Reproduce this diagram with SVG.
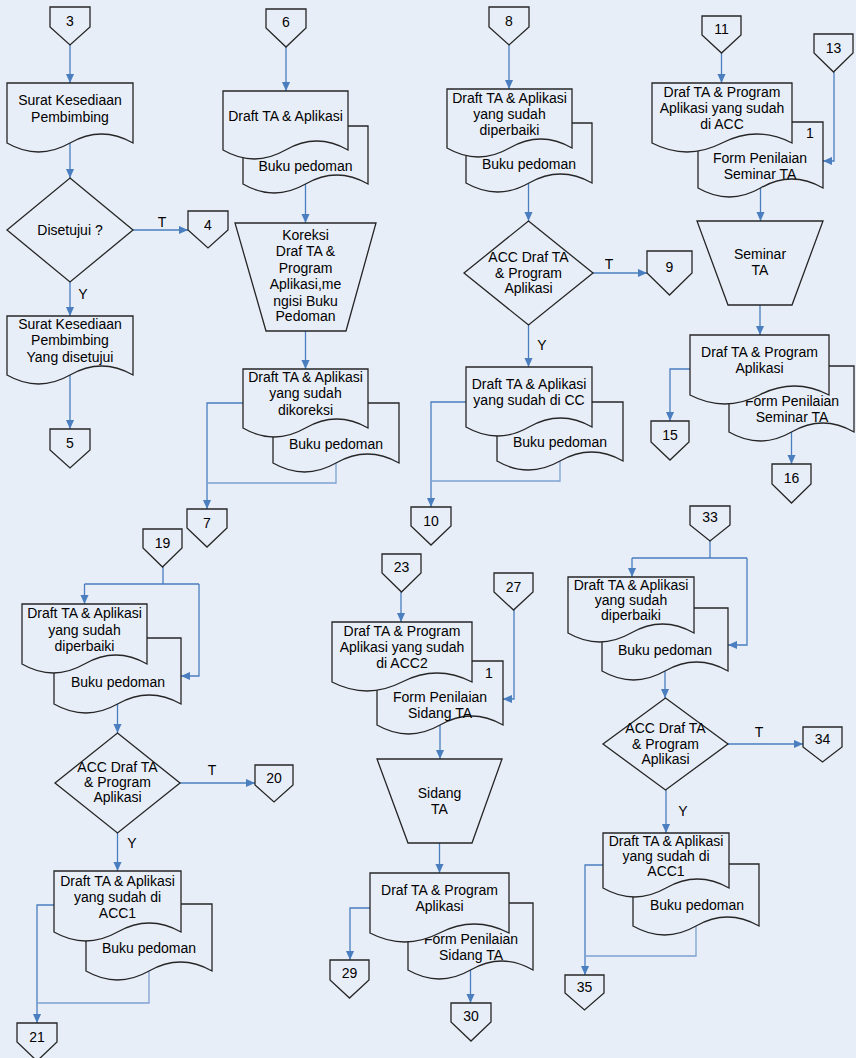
<svg xmlns="http://www.w3.org/2000/svg" width="856" height="1058" viewBox="0 0 856 1058">
<defs>
<style>
.s{fill:#E8EEF8;stroke:#262626;stroke-width:1.3}
.t{font-family:"Liberation Sans",Arial,sans-serif;font-size:14px;text-anchor:middle;dominant-baseline:central;fill:#000}
.c{fill:none;stroke:#4A7EBF;stroke-width:1.3}
.a{marker-end:url(#ah)}
.l{stroke:#7EA0D2}
</style>
<marker id="ah" viewBox="0 0 10 10" refX="10" refY="5" markerWidth="9" markerHeight="9" markerUnits="userSpaceOnUse" orient="auto"><path d="M0,0.5 L10,5 L0,9.5 Z" fill="#4A7EBF"/></marker>
</defs>
<rect width="856" height="1058" fill="#E8EEF8"/>
<g id="connectors">
<path class="c a" d="M70,45 V83"/>
<path class="c a" d="M70,143 V178"/>
<path class="c a" d="M133,230 H188"/>
<path class="c a" d="M70,282 V316"/>
<path class="c a" d="M70,375 V429"/>
<path class="c a" d="M286,47 V91"/>
<path class="c a" d="M305.5,184 V223"/>
<path class="c a" d="M305.5,331 V369"/>
<path class="c a" d="M243,403 H207 V509"/>
<path class="c l" d="M336,463 V483 H207"/>
<path class="c a" d="M509,45 V89"/>
<path class="c a" d="M528.5,183 V221"/>
<path class="c a" d="M593,273 H647"/>
<path class="c a" d="M528.5,325 V367"/>
<path class="c a" d="M466,402 H431 V507"/>
<path class="c l" d="M560,461 V481 H431"/>
<path class="c a" d="M721.5,53 V83"/>
<path class="c a" d="M834,72 V161 H823"/>
<path class="c a" d="M760.5,188 V221"/>
<path class="c a" d="M760,305 V335"/>
<path class="c a" d="M690,369 H670 V421"/>
<path class="c a" d="M791.5,432 V464"/>
<path class="c" d="M163,567 V584 M84.5,584 H199"/>
<path class="c a" d="M84.5,584 V604"/>
<path class="c a" d="M199,584 V676 H181"/>
<path class="c a" d="M117.5,704 V733"/>
<path class="c a" d="M180,783 H255"/>
<path class="c a" d="M117.5,833 V871"/>
<path class="c a" d="M54,905 H37 V1023"/>
<path class="c l" d="M149,971 V1003 H37"/>
<path class="c a" d="M401,592 V622"/>
<path class="c a" d="M514,610 V699 H503"/>
<path class="c a" d="M440,725 V759"/>
<path class="c a" d="M439.5,843 V873"/>
<path class="c a" d="M370,908 H350 V960"/>
<path class="c a" d="M470.5,970 V1003"/>
<path class="c" d="M710,541 V558 M632,558 H747"/>
<path class="c a" d="M632,558 V577"/>
<path class="c a" d="M747,558 V645 H728"/>
<path class="c a" d="M665,671 V698"/>
<path class="c a" d="M728,744 H803"/>
<path class="c a" d="M666,790 V833"/>
<path class="c a" d="M603,865 H585 V975"/>
<path class="c l" d="M696,926 V956 H585"/>
<text class="t" x="162" y="222">T</text>
<text class="t" x="83" y="294">Y</text>
<text class="t" x="609" y="264">T</text>
<text class="t" x="542" y="345">Y</text>
<text class="t" x="212" y="770">T</text>
<text class="t" x="132" y="843">Y</text>
<text class="t" x="759" y="732">T</text>
<text class="t" x="683" y="811">Y</text>
</g>
<g id="p3"><path class="s" d="M50,7 H90 V27 L70,45 L50,27 Z"/><text class="t" x="70" y="21">3</text></g>
<g id="p4"><path class="s" d="M188,211 H228 V230 L208,248 L188,230 Z"/><text class="t" x="208" y="225">4</text></g>
<g id="p5"><path class="s" d="M50,429 H90 V450 L70,468 L50,450 Z"/><text class="t" x="70" y="443">5</text></g>
<g id="p6"><path class="s" d="M266,9 H306 V28 L286,47 L266,28 Z"/><text class="t" x="286" y="22">6</text></g>
<g id="p7"><path class="s" d="M187,509 H227 V528 L207,547 L187,528 Z"/><text class="t" x="207" y="523">7</text></g>
<g id="p8"><path class="s" d="M489,7 H529 V27 L509,45 L489,27 Z"/><text class="t" x="509" y="21">8</text></g>
<g id="p9"><path class="s" d="M647,251 H692 V273 L669.5,295 L647,273 Z"/><text class="t" x="669.5" y="267">9</text></g>
<g id="p10"><path class="s" d="M411,507 H451 V526 L431,545 L411,526 Z"/><text class="t" x="431" y="521">10</text></g>
<g id="p11"><path class="s" d="M702,16 H741 V35 L721.5,53 L702,35 Z"/><text class="t" x="721.5" y="29">11</text></g>
<g id="p13"><path class="s" d="M814,34 H853 V53 L833.5,72 L814,53 Z"/><text class="t" x="833.5" y="48">13</text></g>
<g id="p15"><path class="s" d="M651,421 H689 V442 L670,460 L651,442 Z"/><text class="t" x="670" y="435">15</text></g>
<g id="p16"><path class="s" d="M772,464 H811 V484 L791.5,503 L772,484 Z"/><text class="t" x="791.5" y="478">16</text></g>
<g id="p19"><path class="s" d="M143,529 H182 V548 L162.5,567 L143,548 Z"/><text class="t" x="162.5" y="543">19</text></g>
<g id="p20"><path class="s" d="M255,765 H293 V785 L274,802 L255,785 Z"/><text class="t" x="274" y="778">20</text></g>
<g id="p21"><path class="s" d="M17,1023 H57 V1042 L37,1061 L17,1042 Z"/><text class="t" x="37" y="1037">21</text></g>
<g id="p23"><path class="s" d="M382,554 H421 V573 L401.5,592 L382,573 Z"/><text class="t" x="401.5" y="567">23</text></g>
<g id="p27"><path class="s" d="M494,573 H533 V592 L513.5,610 L494,592 Z"/><text class="t" x="513.5" y="587">27</text></g>
<g id="p29"><path class="s" d="M330,960 H369 V980 L349.5,998 L330,980 Z"/><text class="t" x="349.5" y="973">29</text></g>
<g id="p30"><path class="s" d="M451,1003 H491 V1022 L471,1041 L451,1022 Z"/><text class="t" x="471" y="1016">30</text></g>
<g id="p33"><path class="s" d="M690,506 H730 V525 L710,541 L690,525 Z"/><text class="t" x="710" y="517">33</text></g>
<g id="p34"><path class="s" d="M803,727 H842 V747 L822.5,762 L803,747 Z"/><text class="t" x="822.5" y="739">34</text></g>
<g id="p35"><path class="s" d="M565,975 H604 V993 L584.5,1010 L565,993 Z"/><text class="t" x="584.5" y="987">35</text></g>
<g id="d1"><path class="s" d="M7,83 H133 V143 Q101.5,125 70,143 T7,143 Z"/><text class="t" x="70" y="100">Surat Kesediaan</text><text class="t" x="70" y="117">Pembimbing</text></g>
<g id="q1"><path class="s" d="M70,178 L133,230 L70,282 L7,230 Z"/><text class="t" x="70" y="230">Disetujui ?</text></g>
<g id="d2"><path class="s" d="M7,316 H133 V375 Q101.5,357 70,375 T7,375 Z"/><text class="t" x="70" y="324">Surat Kesediaan</text><text class="t" x="70" y="340">Pembimbing</text><text class="t" x="70" y="357">Yang disetujui</text></g>
<g id="d3b"><path class="s" d="M243,126 H368 V184 Q336.75,166 305.5,184 T243,184 Z"/><text class="t" x="305.5" y="166">Buku pedoman</text></g>
<g id="d3f"><path class="s" d="M223,91 H348 V150 Q316.75,132 285.5,150 T223,150 Z"/><text class="t" x="285.5" y="116">Draft TA &amp; Aplikasi</text></g>
<g id="m1"><path class="s" d="M235,223 H376 L346,331 H266 Z"/><text class="t" x="305.5" y="235">Koreksi</text><text class="t" x="305.5" y="251">Draf TA &amp;</text><text class="t" x="305.5" y="268">Program</text><text class="t" x="305.5" y="284">Aplikasi,me</text><text class="t" x="305.5" y="301">ngisi Buku</text><text class="t" x="305.5" y="316">Pedoman</text></g>
<g id="d4b"><path class="s" d="M273,403 H399 V463 Q367.5,445 336,463 T273,463 Z"/><text class="t" x="336" y="444">Buku pedoman</text></g>
<g id="d4f"><path class="s" d="M243,369 H368 V428 Q336.75,410 305.5,428 T243,428 Z"/><text class="t" x="305.5" y="377">Draft TA &amp; Aplikasi</text><text class="t" x="305.5" y="393">yang sudah</text><text class="t" x="305.5" y="410">dikoreksi</text></g>
<g id="d5b"><path class="s" d="M466,123 H592 V183 Q560.5,165 529,183 T466,183 Z"/><text class="t" x="529" y="164">Buku pedoman</text></g>
<g id="d5f"><path class="s" d="M447,89 H572 V148 Q540.75,130 509.5,148 T447,148 Z"/><text class="t" x="509.5" y="98">Draft TA &amp; Aplikasi</text><text class="t" x="509.5" y="114">yang sudah</text><text class="t" x="509.5" y="130">diperbaiki</text></g>
<g id="q2"><path class="s" d="M528.5,221 L593,273 L528.5,325 L464,273 Z"/><text class="t" x="528.5" y="257">ACC Draf TA</text><text class="t" x="528.5" y="273">&amp; Program</text><text class="t" x="528.5" y="288">Aplikasi</text></g>
<g id="d6b"><path class="s" d="M497,402 H623 V461 Q591.5,443 560,461 T497,461 Z"/><text class="t" x="560" y="442">Buku pedoman</text></g>
<g id="d6f"><path class="s" d="M466,367 H592 V427 Q560.5,409 529,427 T466,427 Z"/><text class="t" x="529" y="384">Draft TA &amp; Aplikasi</text><text class="t" x="529" y="400">yang sudah di CC</text></g>
<g id="d7b"><path class="s" d="M698,122 H823 V188 Q791.75,170 760.5,188 T698,188 Z"/><text class="t" x="810" y="133">1</text><text class="t" x="760" y="158">Form Penilaian</text><text class="t" x="760" y="174">Seminar TA</text></g>
<g id="d7f"><path class="s" d="M652,83 H792 V143 Q757,125 722,143 T652,143 Z"/><text class="t" x="722" y="92">Draf TA &amp; Program</text><text class="t" x="722" y="108">Aplikasi yang sudah</text><text class="t" x="722" y="124">di ACC</text></g>
<g id="m2"><path class="s" d="M697,221 H823 L792,305 H728 Z"/><text class="t" x="760" y="254">Seminar</text><text class="t" x="760" y="270">TA</text></g>
<g id="d8b"><path class="s" d="M729,366 H854 V432 Q822.75,414 791.5,432 T729,432 Z"/><text class="t" x="792" y="401">Form Penilaian</text><text class="t" x="792" y="417">Seminar TA</text></g>
<g id="d8f"><path class="s" d="M690,335 H829 V395 Q794.25,377 759.5,395 T690,395 Z"/><text class="t" x="759.5" y="352">Draf TA &amp; Program</text><text class="t" x="759.5" y="368">Aplikasi</text></g>
<g id="d9b"><path class="s" d="M54,638 H181 V704 Q149.25,686 117.5,704 T54,704 Z"/><text class="t" x="118" y="682">Buku pedoman</text></g>
<g id="d9f"><path class="s" d="M22,604 H147 V664 Q115.75,646 84.5,664 T22,664 Z"/><text class="t" x="84.5" y="613">Draft TA &amp; Aplikasi</text><text class="t" x="84.5" y="630">yang sudah</text><text class="t" x="84.5" y="646">diperbaiki</text></g>
<g id="q3"><path class="s" d="M117.5,733 L180,783 L117.5,833 L55,783 Z"/><text class="t" x="117.5" y="767">ACC Draf TA</text><text class="t" x="117.5" y="782">&amp; Program</text><text class="t" x="117.5" y="797">Aplikasi</text></g>
<g id="d10b"><path class="s" d="M86,904 H212 V971 Q180.5,953 149,971 T86,971 Z"/><text class="t" x="149" y="948">Buku pedoman</text></g>
<g id="d10f"><path class="s" d="M54,871 H181 V932 Q149.25,914 117.5,932 T54,932 Z"/><text class="t" x="117.5" y="881">Draft TA &amp; Aplikasi</text><text class="t" x="117.5" y="897">yang sudah di</text><text class="t" x="117.5" y="913">ACC1</text></g>
<g id="d11b"><path class="s" d="M377,661 H503 V725 Q471.5,707 440,725 T377,725 Z"/><text class="t" x="489" y="673">1</text><text class="t" x="440" y="697">Form Penilaian</text><text class="t" x="440" y="713">Sidang TA</text></g>
<g id="d11f"><path class="s" d="M332,622 H472 V682 Q437,664 402,682 T332,682 Z"/><text class="t" x="402" y="631">Draf TA &amp; Program</text><text class="t" x="402" y="647">Aplikasi yang sudah</text><text class="t" x="402" y="663">di ACC2</text></g>
<g id="m3"><path class="s" d="M377,759 H502 L472,843 H408 Z"/><text class="t" x="439.5" y="793">Sidang</text><text class="t" x="439.5" y="809">TA</text></g>
<g id="d12b"><path class="s" d="M408,903 H533 V970 Q501.75,952 470.5,970 T408,970 Z"/><text class="t" x="471" y="939">Form Penilaian</text><text class="t" x="471" y="955">Sidang TA</text></g>
<g id="d12f"><path class="s" d="M370,873 H509 V933 Q474.25,915 439.5,933 T370,933 Z"/><text class="t" x="439.5" y="890">Draf TA &amp; Program</text><text class="t" x="439.5" y="906">Aplikasi</text></g>
<g id="d13b"><path class="s" d="M602,608 H728 V671 Q696.5,653 665,671 T602,671 Z"/><text class="t" x="665" y="650">Buku pedoman</text></g>
<g id="d13f"><path class="s" d="M568,577 H694 V633 Q662.5,615 631,633 T568,633 Z"/><text class="t" x="631" y="585">Draft TA &amp; Aplikasi</text><text class="t" x="631" y="600">yang sudah</text><text class="t" x="631" y="615">diperbaiki</text></g>
<g id="q4"><path class="s" d="M665.5,698 L728,744 L665.5,790 L603,744 Z"/><text class="t" x="665.5" y="728">ACC Draf TA</text><text class="t" x="665.5" y="744">&amp; Program</text><text class="t" x="665.5" y="759">Aplikasi</text></g>
<g id="d14b"><path class="s" d="M633,864 H759 V926 Q727.5,908 696,926 T633,926 Z"/><text class="t" x="697" y="905">Buku pedoman</text></g>
<g id="d14f"><path class="s" d="M603,833 H729 V888 Q697.5,870 666,888 T603,888 Z"/><text class="t" x="666" y="841">Draft TA &amp; Aplikasi</text><text class="t" x="666" y="856">yang sudah di</text><text class="t" x="666" y="871">ACC1</text></g>
</svg>
